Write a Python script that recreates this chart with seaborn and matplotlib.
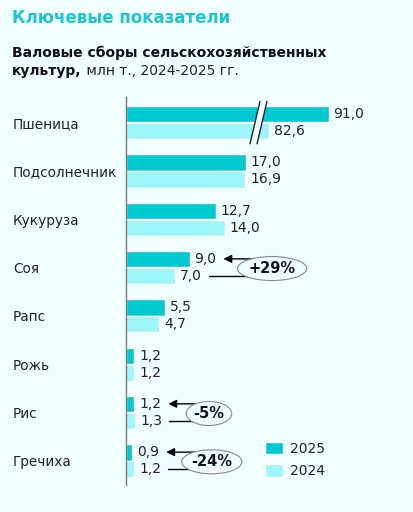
import numpy as np
import pandas as pd
import matplotlib
matplotlib.use('Agg')
import matplotlib.pyplot as plt
from matplotlib.patches import Polygon, Ellipse
import seaborn as sns

# data
crops = ['Пшеница', 'Подсолнечник', 'Кукуруза', 'Соя', 'Рапс', 'Рожь', 'Рис', 'Гречиха']
harvest_2025 = [91.0, 17.0, 12.7, 9.0, 5.5, 1.2, 1.2, 0.9]
harvest_2024 = [82.6, 16.9, 14.0, 7.0, 4.7, 1.2, 1.3, 1.2]
years = ['2025', '2024']
change_crops = ['Соя', 'Рис', 'Гречиха']
change_labels = ['+29%', '-5%', '-24%']

BG = '#F0FFFF'
C25 = '#00C8D0'
C24 = '#9CF6FC'
TITLE_C = '#20C5CB'
CUT = 62.3          # part of the wheat bar hidden by the axis break

def fmt(v):
    return f'{v:.1f}'.replace('.', ',')

rows = []
for c, a, b in zip(crops, harvest_2025, harvest_2024):
    rows.append({'crop': c, 'year': '2025', 'value': a})
    rows.append({'crop': c, 'year': '2024', 'value': b})
df = pd.DataFrame(rows)
df['shown'] = np.where(df['crop'] == 'Пшеница', df['value'] - CUT, df['value'])

sns.set_style('white')
plt.rcParams['font.family'] = ['DejaVu Sans']

fig = plt.figure(figsize=(4.13, 5.12), dpi=100, facecolor=BG)
ax = fig.add_axes([126 / 413, 27 / 512, 287 / 413, 388 / 512])
ax.set_facecolor(BG)

sns.barplot(data=df, y='crop', x='shown', hue='year', hue_order=years,
            palette=[C25, C24], orient='h', width=0.70, gap=0.04,
            saturation=1, ax=ax, zorder=2)

ax.set_xlim(0, 40.65)
ax.set_ylim(7.5, -0.53)
ax.set_xlabel('')
ax.set_ylabel('')
ax.set_xticks([])
for s in ['top', 'right', 'bottom']:
    ax.spines[s].set_visible(False)
ax.spines['left'].set_color('#777777')
ax.spines['left'].set_linewidth(1)

ax.tick_params(axis='y', length=0, pad=81.4, labelsize=9.8, labelcolor='#222222')
for lab in ax.get_yticklabels():
    lab.set_ha('left')

# value labels
for cont, vals in zip(ax.containers, [harvest_2025, harvest_2024]):
    ax.bar_label(cont, labels=[fmt(v) for v in vals], padding=3.5,
                 fontsize=10, color='#222222')

# axis break on wheat
brk = Polygon([(17.56, 0.44), (18.98, -0.44), (19.97, -0.44), (18.56, 0.44)],
              closed=True, fc=BG, ec='none', zorder=5, clip_on=False)
ax.add_patch(brk)
ax.plot([17.56, 18.98], [0.44, -0.44], color='#222222', lw=1, zorder=6, clip_on=False)
ax.plot([18.56, 19.97], [0.44, -0.44], color='#222222', lw=1, zorder=6, clip_on=False)

# change annotations
pct_texts = []
for crop, txt in zip(change_crops, change_labels):
    i = crops.index(crop)
    tip = harvest_2025[i] + 4.8
    tx = tip + 3.55
    ax.annotate('', xy=(tip, i - 0.18), xytext=(tx + 1, i - 0.18),
                arrowprops=dict(arrowstyle='-|>,head_length=0.6,head_width=0.3',
                                color='black', lw=1, mutation_scale=8,
                                shrinkA=0, shrinkB=0),
                zorder=6)
    ax.plot([harvest_2024[i] + 4.75, tx + 1], [i + 0.17, i + 0.17],
            color='black', lw=1, zorder=6)
    t = ax.text(tx, i + 0.02, txt, ha='left', va='center', fontsize=10.5,
                fontweight='bold', color='#111111', zorder=8)
    pct_texts.append((t, i))

# legend
sns.move_legend(ax, loc='upper left', bbox_to_anchor=(265 / 413, 1 - 442 / 512),
                bbox_transform=fig.transFigure, frameon=False, title=None,
                fontsize=10, handlelength=1.3, handleheight=1.0,
                handletextpad=0.5, labelspacing=0.58, borderpad=0,
                borderaxespad=0)
for t in ax.get_legend().get_texts():
    t.set_color('#222222')

# titles
fig.text(12 / 413, 1 - 23 / 512, 'Ключевые показатели', fontsize=12,
         fontweight='bold', color=TITLE_C, va='baseline')
fig.text(12 / 413, 1 - 57 / 512, 'Валовые сборы сельскохозяйственных',
         fontsize=10, fontweight='bold', color='#111111', va='baseline')
t1 = fig.text(12 / 413, 1 - 75 / 512, 'культур,', fontsize=10,
              fontweight='bold', color='#111111', va='baseline')
fig.canvas.draw()
bb = t1.get_window_extent().transformed(fig.transFigure.inverted())
fig.text(bb.x1, 1 - 75 / 512, ' млн т., 2024-2025 гг.', fontsize=10,
         color='#222222', va='baseline')

# ellipses around percent labels, sized from the text
inv = ax.transData.inverted()
for t, i in pct_texts:
    ext = t.get_window_extent()
    cx = (ext.x0 + ext.x1) / 2
    w_px = (ext.x1 - ext.x0) * 1.47
    x0 = inv.transform((cx - w_px / 2, 0))[0]
    x1 = inv.transform((cx + w_px / 2, 0))[0]
    xc = inv.transform((cx, 0))[0]
    e = Ellipse((xc, i + 0.02), x1 - x0, 24 / 48.33, fc=BG, ec='#888888',
                lw=0.8, zorder=7)
    ax.add_patch(e)

fig.savefig('out.png', dpi=100, facecolor=BG)
